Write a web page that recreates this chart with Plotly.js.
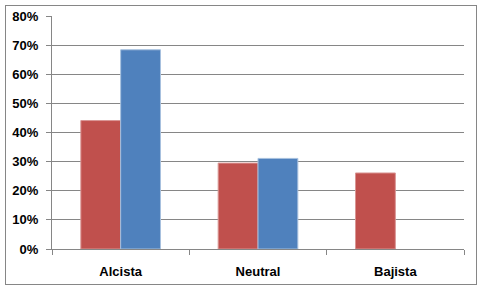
<!DOCTYPE html>
<html>
<head>
<meta charset="utf-8">
<script src="https://cdn.plot.ly/plotly-3.0.1.min.js"></script>
<style>
html,body{margin:0;padding:0;background:#fff;}
#wrap{position:absolute;left:0;top:0;width:482px;height:290px;}
#frame{position:absolute;left:5px;top:5px;width:470px;height:278px;border:1px solid #868686;pointer-events:none;}
#chart{position:absolute;left:0;top:0;width:482px;height:290px;}
</style>
</head>
<body>
<div id="wrap"><div id="chart"></div><div id="frame"></div></div>
<script>
var categories = ["Alcista", "Neutral", "Bajista"];
var seriesRed = [0.441, 0.295, 0.261];
var seriesBlue = [0.684, 0.311, 0];
var yTickVals = [0, 0.1, 0.2, 0.3, 0.4, 0.5, 0.6, 0.7, 0.8];
var yTickText = ["0%", "10%", "20%", "30%", "40%", "50%", "60%", "70%", "80%"];

var font = {family: "Liberation Sans, Arial, sans-serif", size: 13, color: "#000"};
var blueLineWidths = seriesBlue.map(function (v) { return v > 0 ? 1 : 0; });
var traces = [
  {type: "bar", x: categories, y: seriesRed, name: "A",
   marker: {color: "#C0504D", line: {color: "#D99694", width: 1}}, hoverinfo: "none"},
  {type: "bar", x: categories, y: seriesBlue, name: "B",
   marker: {color: "#4F81BD", line: {color: "#A7C0DE", width: blueLineWidths}}, hoverinfo: "none"}
];
var layout = {
  width: 482, height: 290,
  margin: {l: 52, r: 18, t: 16, b: 41, pad: 0},
  paper_bgcolor: "#fff", plot_bgcolor: "#fff",
  showlegend: false,
  barmode: "group", bargap: 0.42, bargroupgap: 0,
  font: font,
  xaxis: {
    type: "category", showline: true, linecolor: "#868686", linewidth: 1,
    ticks: "outside", tickson: "boundaries", ticklen: 5, tickcolor: "#868686",
    ticklabelstandoff: 10,
    tickfont: {family: font.family, size: 13, color: "#000", weight: "bold"},
    showgrid: false, zeroline: false, fixedrange: true
  },
  yaxis: {
    range: [0, 0.8], tickvals: yTickVals, ticktext: yTickText,
    showline: true, linecolor: "#868686", linewidth: 1,
    ticks: "outside", ticklen: 5, tickcolor: "#868686",
    ticklabelstandoff: 5,
    showgrid: true, gridcolor: "#868686", gridwidth: 1,
    zeroline: false,
    tickfont: {family: font.family, size: 13, color: "#000", weight: "bold"},
    fixedrange: true
  }
};
Plotly.newPlot("chart", traces, layout, {staticPlot: true, displayModeBar: false});
</script>
</body>
</html>
